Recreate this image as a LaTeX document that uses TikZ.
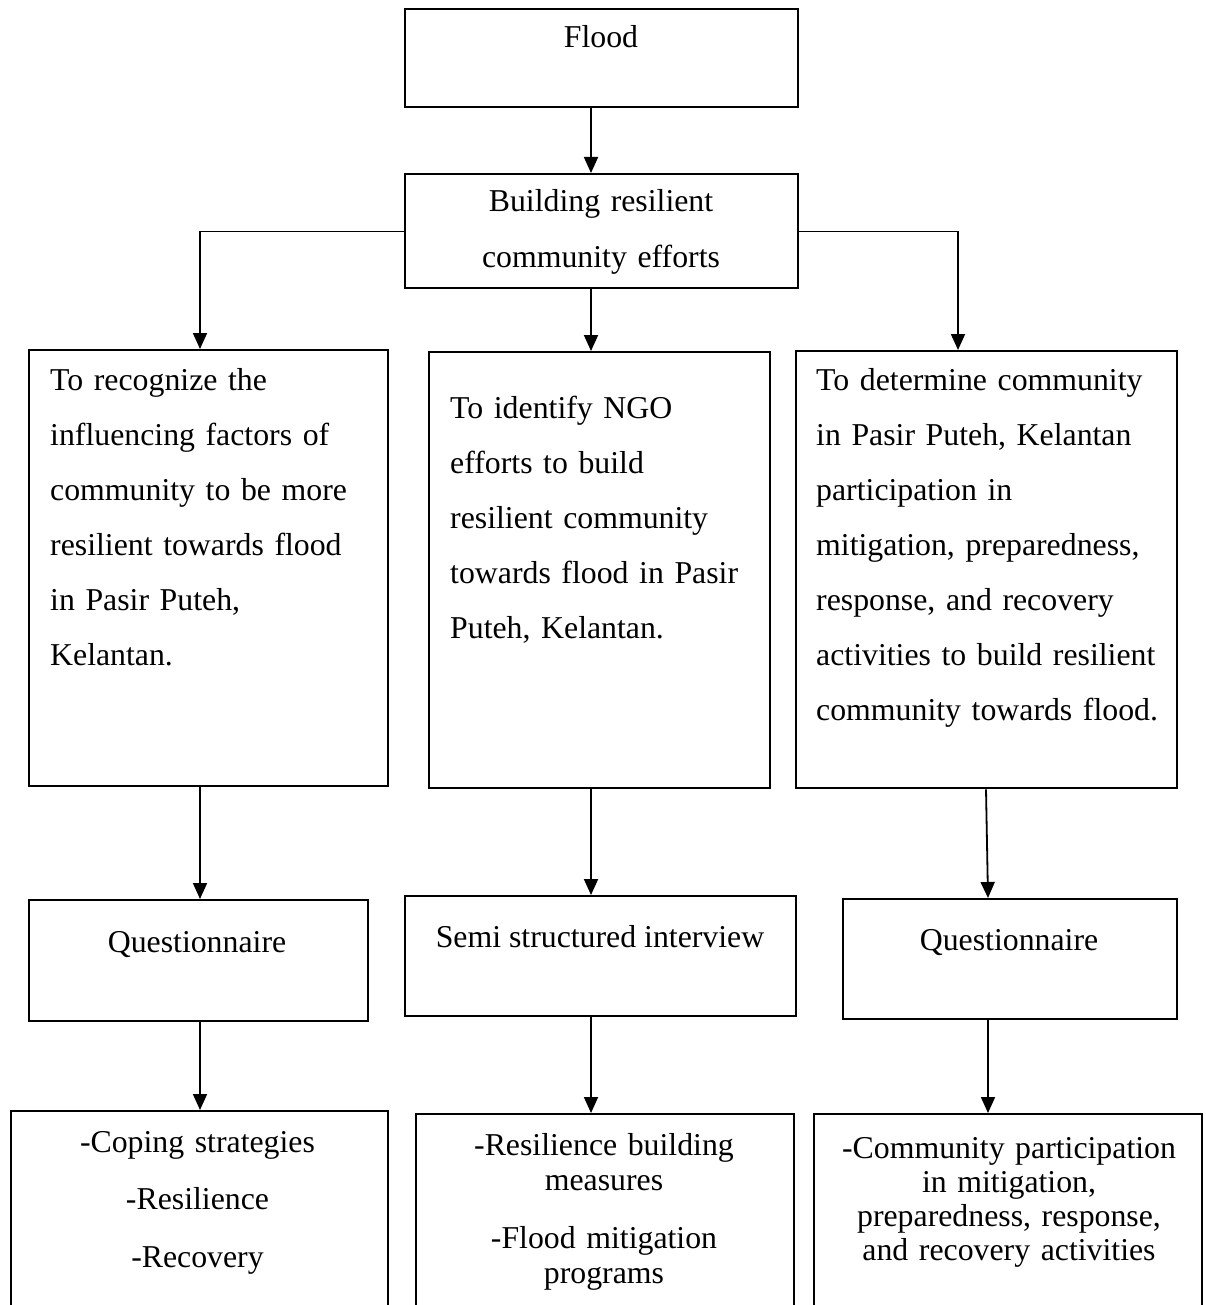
\documentclass[tikz,border=0pt]{standalone}
\usepackage{fontspec}
\setmainfont{Liberation Serif}
\usetikzlibrary{arrows.meta}
\newcommand\myfs[1]{\fontsize{31.8}{#1}\selectfont}
\begin{document}
\begin{tikzpicture}[x=1pt,y=-1pt,
  box/.style={draw, line width=2.4pt, inner sep=0pt, anchor=north west},
  arr/.style={line width=1.8pt, -{Triangle[width=14pt,length=16pt]}},
  branch/.style={line width=1.1pt},
  txt/.style={inner sep=0pt},
]
\useasboundingbox (0,0) rectangle (1205,1305);
\fill[white] (0,0) rectangle (1205,1305);

% column coordinates
\coordinate (lx) at (200,0);
\coordinate (mx) at (591,0);
\coordinate (rx) at (958,0);
\coordinate (rxa) at (986,0);
\coordinate (rxb) at (988,0);

% boxes
\node[box, minimum width=393pt, minimum height=98pt] (flood) at (404,8) {};
\node[box, minimum width=393pt, minimum height=114pt] (build) at (404,173) {};

\node[box, minimum width=359pt, minimum height=436pt] (obj1) at (28,349) {};
\node[box, minimum width=341pt, minimum height=436pt] (obj2) at (428,351) {};
\node[box, minimum width=381pt, minimum height=437pt] (obj3) at (795,350) {};

\node[box, minimum width=339pt, minimum height=121pt] (q1) at (28,899) {};
\node[box, minimum width=391pt, minimum height=120pt] (q2) at (404,895) {};
\node[box, minimum width=334pt, minimum height=120pt] (q3) at (842,898) {};

\node[box, minimum width=377pt, minimum height=260pt] (r1) at (10,1110) {};
\node[box, minimum width=378pt, minimum height=260pt] (r2) at (415,1113) {};
\node[box, minimum width=388pt, minimum height=260pt] (r3) at (813,1113) {};

% texts
\node[txt, anchor=base, font=\myfs{38}] (tflood) at (601,48) {Flood};
\node[txt, anchor=base, text width=380pt, align=center, font=\myfs{56}] (tbuild) at (601,212)
  {Building resilient\\community efforts};

\node[txt, anchor=base west, text width=340pt, align=left, font=\myfs{55}] (tobj1) at (50,390)
  {To recognize the\\influencing factors of\\community to be more\\resilient towards flood\\in Pasir Puteh,\\Kelantan.};
\node[txt, anchor=base west, text width=320pt, align=left, font=\myfs{55}] (tobj2) at (450,418)
  {To identify NGO\\efforts to build\\resilient community\\towards flood in Pasir\\Puteh, Kelantan.};
\node[txt, anchor=base west, text width=360pt, align=left, font=\myfs{55}] (tobj3) at (816,390)
  {To determine community\\in Pasir Puteh, Kelantan\\participation in\\mitigation, preparedness,\\response, and recovery\\activities to build resilient\\community towards flood.};

\node[txt, anchor=base, font=\myfs{38}] (tq1) at (197,952) {Questionnaire};
\node[txt, anchor=base, font=\myfs{38}] (tq2) at (600,947) {Semi structured interview};
\node[txt, anchor=base, font=\myfs{38}] (tq3) at (1009,950) {Questionnaire};

\node[txt, anchor=base, text width=360pt, align=center, font=\myfs{57.5}] (tr1) at (197.5,1152)
  {-Coping strategies\\-Resilience\\-Recovery};
\node[txt, anchor=base, text width=370pt, align=center, font=\myfs{35}] (tr2) at (604,1155)
  {-Resilience building\\measures\\[23pt]-Flood mitigation\\programs};
\node[txt, anchor=base, text width=380pt, align=center, font=\myfs{34}] (tr3) at (1009,1158)
  {-Community participation\\in mitigation,\\preparedness, response,\\and recovery activities};

% connectors
\draw[arr] (flood.south -| mx) -- (build.north -| mx);
\draw[branch] (build.west) -- (build.west -| lx);
\draw[arr] (build.west -| lx) -- (obj1.north -| lx);
\draw[arr] (build.south -| mx) -- (obj2.north -| mx);
\draw[branch] (build.east) -- (build.east -| rx);
\draw[arr] (build.east -| rx) -- (obj3.north -| rx);

\draw[arr] (obj1.south -| lx) -- (q1.north -| lx);
\draw[arr] (obj2.south -| mx) -- (q2.north -| mx);
\draw[arr] (obj3.south -| rxa) -- (q3.north -| rxb);

\draw[arr] (q1.south -| lx) -- (r1.north -| lx);
\draw[arr] (q2.south -| mx) -- (r2.north -| mx);
\draw[arr] (q3.south -| rxb) -- (r3.north -| rxb);
\end{tikzpicture}
\end{document}
